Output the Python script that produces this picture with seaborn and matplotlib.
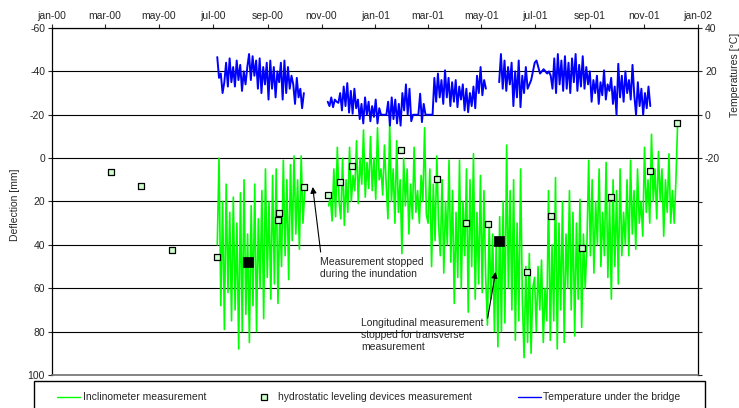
import matplotlib
matplotlib.use("Agg")
import pandas as pd
import numpy as np
import seaborn as sns
import matplotlib.pyplot as plt
import matplotlib.dates as mdates
from matplotlib.lines import Line2D
from matplotlib.patches import Rectangle

# inclinometer deflection [mm], two measured periods
incl_a_start, incl_a_end = "2000-07-06", "2000-10-13"
incl_a = [40, 0, 68,
          20, 79, 12, 62, 25, 75,
          18, 70, 30, 88, 16,
          80, 10, 72, 35, 85, 22,
          68, 12, 80, 28, 60, 15, 74,
          5, 55, 20, 65, 8,
          58, 5, 67, 25, 50,
          1, 45, 10, 56, 3, 38,
          -1, 35, 10, 42, -1, 30, 15]

incl_b_start, incl_b_end = "2000-11-09", "2001-12-09"
incl_b = [22, 18, 29,
          5, 27, -5, 20,
          28, 0, 31, 10, 25, -5, 20, 8,
          15, -8, 21, 0, 12, -13, 18, 2, 14,
          -10, 15, 0, 19, -14, 10, 5, 17, -6, 12,
          28, -16, 20, 5, 30, -8, 25, 10, 44, 0, 22,
          5, 35, 12, 28, -5, 25, 15, 30, 8, 20, -14, 26,
          30, 5, 50, 12, 38, -1, 30,
          45, 10, 53, 20, 40, 1, 48, 15,
          67, 25, 55, 1, 60, 20, 45, 5,
          71, 10, 50, -2, 65, 25, 58,
          8, 62, 15, 55,
          77, 30, 65, 35, 80, 40,
          87, 27, 80,
          20, 76, -6, 60, 15, 70,
          10, 84, 30, 75, 5, 65,
          92, 50, 85, 44, 90, 60,
          55, 80, 50, 70, 47, 85, 60, 75,
          15, 84, 40,
          75, 9, 88, 30, 70, 20, 85, 35, 60, 15,
          70, 25, 82, 30, 65, 19, 78, 35, 60, 40,
          1, 45, 10, 53, 20, 40, 5, 50, 25,
          45, 2, 55, 20, 65, 10, 50, 15, 58, 5, 45, 25,
          40, 10, 45, 1, 35, 15, 42, 5, 30, 20,
          36, -5, 25, 10, 30, -11, 20, 5, 28, -3,
          20, 5, 36, 10, 25, -2, 30, 15,
          30, 10, -17]

# temperature under the bridge [°C], three periods
temp_a_start, temp_a_end = "2000-07-06", "2000-10-12"
temp_a = [26.6, 17,
          19, 10, 15,
          24, 13, 26, 15, 22, 13, 25, 16,
          23, 11, 20, 14, 22,
          28, 16, 27, 18, 25,
          12, 26, 10, 22, 14, 24,
          7, 25, 12, 22, 8, 20, 15, 24,
          7, 25, 10, 22, 12, 18,
          14, 5, 17, 8, 12, 3, 10]

temp_b_start, temp_b_end = "2000-11-08", "2001-05-06"
temp_b = [6, 4, 8, 3.5, 7,
          6, 5.5,
          10, 2, 13, 4, 14.6, 1, 11, 0.5, 12, 3,
          7, -2, 5, -4, 8, 0, 6, -3, 4, -1, 7, -4, 3,
          0, 0, 0, 0,
          6, -5, 8, -2, 7, -4, 5,
          -5, 10, 2, 14, 0, 12, -3,
          0, 0, 0, 0,
          9.7, -3.4, 5, 0,
          0, 0, 0, 0,
          17, 6, 19, 8, 16, 5, 20.5,
          8, 17, 4, 15, 6, 16, 3.5, 13, 7,
          14, 2, 12, 1.2, 10, 4, 13, 3,
          18, 10, 22, 9, 16, 12]

temp_c_start, temp_c_end = "2001-05-21", "2001-11-08"
temp_c = [15, 28, 12, 25, 11, 22, 14,
          24, 4, 20, 8, 25, 3.5, 18, 10, 22, 12,
          14, 16, 20, 24, 25, 22, 19, 20, 21, 20, 19, 20, 18,
          12, 26, 10, 28, 14, 25, 11,
          27, 12, 24, 10, 26, 15, 28, 11, 23, 13, 27, 12, 22, 14,
          20, 6, 16, 10, 18, 5, 15, 9, 20.5, 7, 14, 11, 17, 5, 13,
          0, 23.5, 8, 18, 6, 20, 10, 16, 7, 23, 9,
          0, 15, 4, 12, 0, 10, 3, 13, 4]

# hydrostatic leveling devices
hydro_dates = ["2000-03-08", "2000-04-11", "2000-05-16", "2000-07-06", "2000-09-14",
               "2000-09-13", "2000-10-12", "2000-11-08", "2000-11-22", "2000-12-06",
               "2001-01-30", "2001-03-12", "2001-04-13", "2001-05-08", "2001-06-21",
               "2001-07-19", "2001-08-23", "2001-09-24", "2001-11-08", "2001-12-08"]
hydro_vals = [6.4, 12.8, 42.3, 45.4, 25.4, 28.4, 13.4, 16.8, 10.9, 3.5,
              -3.6, 9.5, 30.0, 30.4, 52.5, 26.8, 41.3, 17.8, 5.9, -16.1]

# reference points (black squares)
ref_dates = ["2000-08-10", "2001-05-21"]
ref_vals = [48, 38]

sns.set_style("ticks")
plt.rcParams["font.family"] = ["Liberation Sans", "DejaVu Sans"]
plt.rcParams["font.size"] = 7.5
plt.rcParams["axes.unicode_minus"] = False

GREEN = "#00ff00"
BLUE = "#0000ff"

fig = plt.figure(figsize=(7.39, 4.08), dpi=100)
ax = fig.add_axes([52 / 739, 1 - 375 / 408, 646 / 739, 347 / 408])


def seg(start, end, vals):
    return pd.date_range(start, end, periods=len(vals))


sns.lineplot(x=seg(incl_a_start, incl_a_end, incl_a), y=incl_a, ax=ax,
             color=GREEN, lw=1.2, estimator=None, sort=False)
sns.lineplot(x=seg(incl_b_start, incl_b_end, incl_b), y=incl_b, ax=ax,
             color=GREEN, lw=1.2, estimator=None, sort=False)

sns.scatterplot(x=pd.to_datetime(hydro_dates), y=hydro_vals, ax=ax, marker="s",
                s=24, color="#ccffcc", edgecolor="black", linewidth=0.9, zorder=5)
sns.scatterplot(x=pd.to_datetime(ref_dates), y=ref_vals, ax=ax, marker="s",
                s=45, color="black", edgecolor="black", linewidth=0.5, zorder=5)

ax.set_xlim(pd.Timestamp("2000-01-01"), pd.Timestamp("2002-01-01"))
ax.set_ylim(100, -60)
ax.set_yticks(range(-60, 101, 20))
ax.set_axisbelow(True)
ax.yaxis.grid(True, color="black", lw=0.8)
ax.xaxis.tick_top()
ax.xaxis.set_major_locator(mdates.MonthLocator(bymonth=[1, 3, 5, 7, 9, 11]))
ax.xaxis.set_major_formatter(
    plt.FuncFormatter(lambda v, p: mdates.num2date(v).strftime("%b-%y").lower()))
ax.tick_params(axis="both", direction="out", length=3, width=0.8, labelsize=7.5, pad=2)
ax.set_xlabel("")
ax.set_ylabel("Deflection [mm]", fontsize=7.5)
ax.yaxis.set_label_coords(-0.049, 0.49)
for s in ["left", "top", "right"]:
    ax.spines[s].set_color("black")
    ax.spines[s].set_linewidth(0.9)
ax.spines["bottom"].set_color("#707070")
ax.spines["bottom"].set_linewidth(1.2)

# temperature on right axis
ax2 = ax.twinx()
sns.lineplot(x=seg(temp_a_start, temp_a_end, temp_a), y=temp_a, ax=ax2,
             color=BLUE, lw=1.4, estimator=None, sort=False)
sns.lineplot(x=seg(temp_b_start, temp_b_end, temp_b), y=temp_b, ax=ax2,
             color=BLUE, lw=1.4, estimator=None, sort=False)
sns.lineplot(x=seg(temp_c_start, temp_c_end, temp_c), y=temp_c, ax=ax2,
             color=BLUE, lw=1.4, estimator=None, sort=False)
ax2.set_ylim(-120, 40)
ax2.set_yticks(range(-120, 41, 20))
ax2.set_yticklabels(["" if t < -20 else str(t) for t in range(-120, 41, 20)])
ax2.tick_params(axis="y", direction="out", length=3, width=0.8, labelsize=7.5, pad=2)
ax2.set_ylabel("Temperatures [°C]", fontsize=7.5)
ax2.yaxis.set_label_coords(1.05, 0.865)
ax2.set_xlim(pd.Timestamp("2000-01-01"), pd.Timestamp("2002-01-01"))
for s in ax2.spines.values():
    s.set_visible(False)

# annotations
ax.annotate("", xy=(pd.Timestamp("2000-10-22"), 13.3), xytext=(pd.Timestamp("2000-10-31"), 43.3),
            arrowprops=dict(arrowstyle="-|>", color="black", lw=0.8, mutation_scale=9,
                            shrinkA=0, shrinkB=0))
ax.text(pd.Timestamp("2000-10-30"), 45.5, "Measurement stopped\nduring the inundation",
        fontsize=7.5, va="top", ha="left", linespacing=1.25)
ax.annotate("", xy=(pd.Timestamp("2001-05-17"), 52.5), xytext=(pd.Timestamp("2001-05-08"), 73.7),
            arrowprops=dict(arrowstyle="-|>", color="black", lw=0.8, mutation_scale=9,
                            shrinkA=0, shrinkB=0))
ax.text(pd.Timestamp("2000-12-16"), 73.7,
        "Longitudinal measurement\nstopped for transverse\nmeasurement",
        fontsize=7.5, va="top", ha="left", linespacing=1.25)

# legend: entries spread across a frame that runs off the bottom edge
handles = [Line2D([], [], color=GREEN, lw=1),
           Line2D([], [], ls="none", marker="s", ms=4.5, mfc="#ccffcc", mec="black", mew=0.9),
           Line2D([], [], color=BLUE, lw=1)]
labels = ["Inclinometer measurement", "hydrostatic leveling devices measurement",
          "Temperature under the bridge"]
leg = fig.legend(handles, labels, ncol=3, mode="expand", loc="upper left",
                 bbox_to_anchor=(46 / 739, 0.0, 646 / 739, 1 - 381 / 408),
                 borderaxespad=0, fontsize=7.5, frameon=False,
                 handlelength=2.2, handletextpad=0.25, borderpad=1.1, columnspacing=4.0)
fig.patches.append(Rectangle((34 / 739, -0.05), 671 / 739, 0.05 + 1 - 381 / 408,
                             transform=fig.transFigure, fill=False, ec="black", lw=1.0))

fig.savefig("out.png", dpi=100)
